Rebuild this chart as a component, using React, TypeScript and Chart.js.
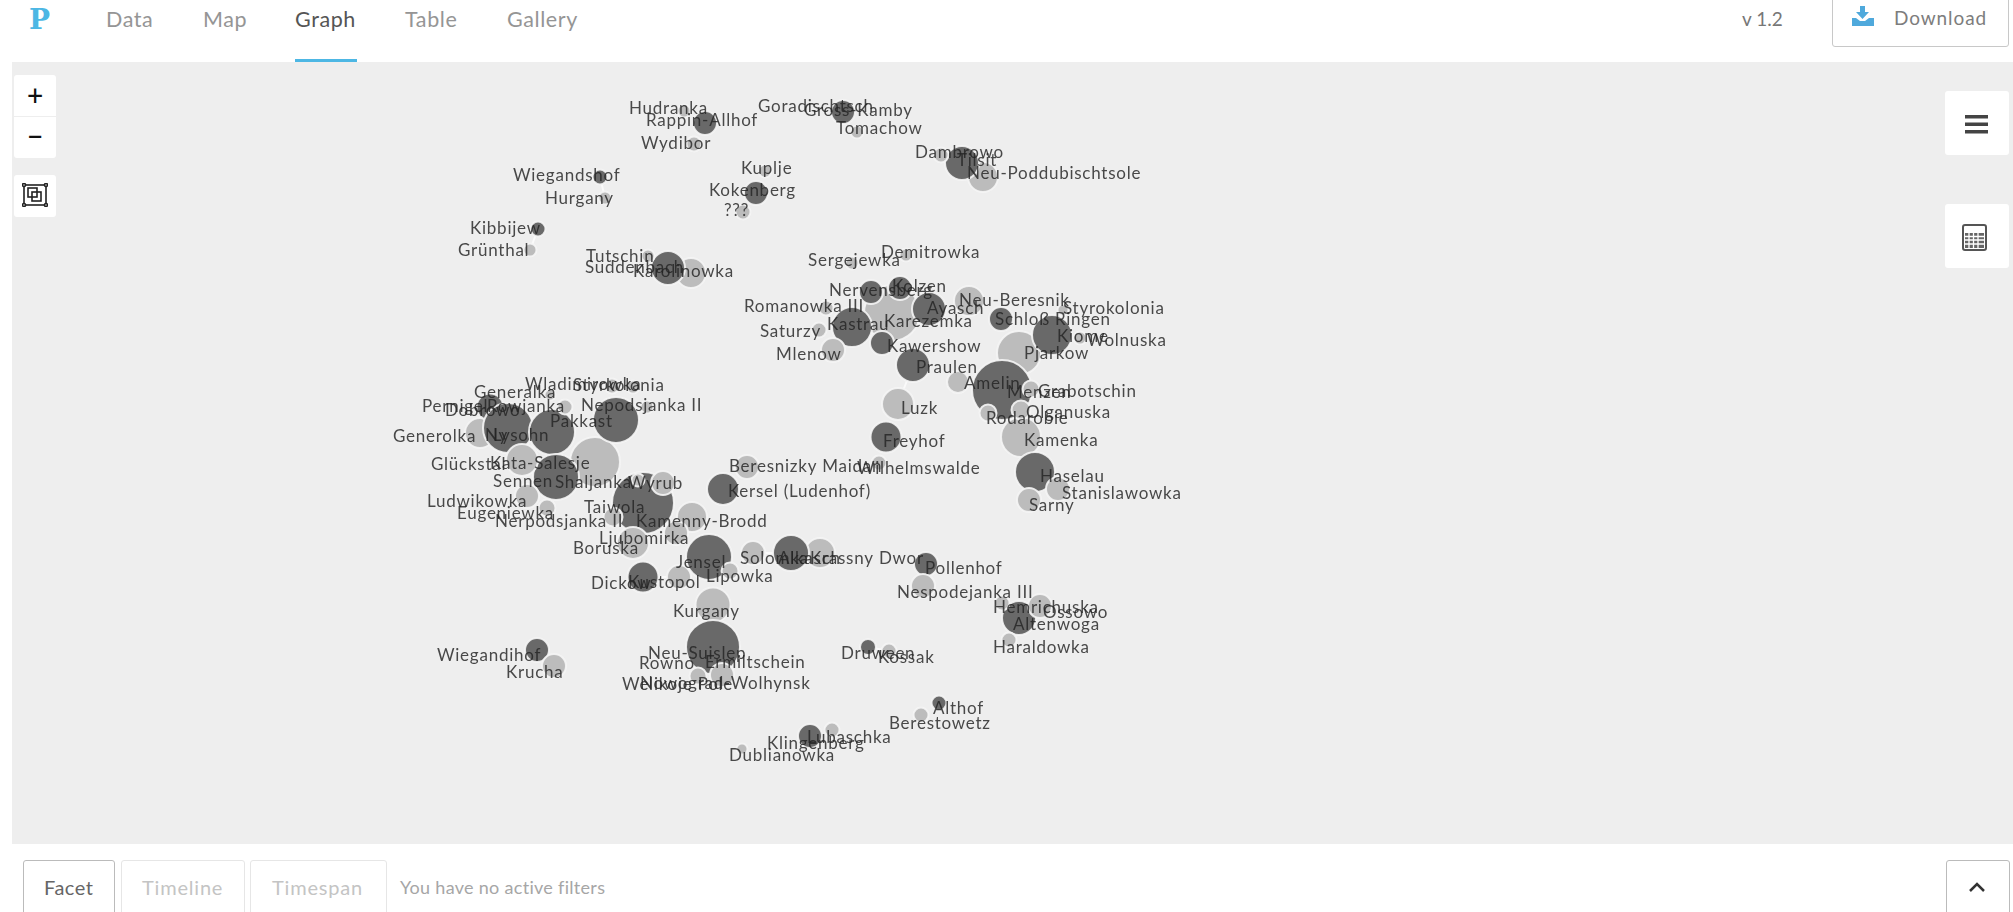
import React, { useEffect, useRef } from "react";
import { Chart, registerables } from "chart.js";

Chart.register(...registerables);

const darkX = [705, 843, 962, 600, 756, 538, 668, 871, 900, 929, 852, 882, 913, 1001, 1052, 1002, 886, 1035, 490, 508, 552, 616, 556, 643, 723, 709, 791, 643, 713, 537, 868, 810, 926, 1019, 939];
const darkY = [123, 112, 163, 177, 193, 229, 268, 292, 288, 309, 327, 343, 365, 319, 335, 390, 437, 472, 407, 428, 432, 420, 477, 503, 489, 557, 553, 577, 647, 650, 647, 736, 564, 618, 703];
const darkR = [12, 12, 17, 7.5, 12, 7.5, 17, 12, 12, 17, 20, 12, 17, 12, 20, 30, 15.5, 20, 13.5, 25, 23, 23, 23, 31, 16, 23, 18, 15.5, 27, 12, 8, 12, 12, 17, 7.5];

const backLightX = [892, 595, 1019, 1021, 480, 983, 691, 820, 969, 713];
const backLightY = [313, 462, 353, 437, 433, 177, 273, 553, 301, 605];
const backLightR = [28, 25, 22, 20, 15, 15, 15, 15, 15, 17.5];

const frontLightX = [684, 694, 857, 941, 605, 765, 743, 530, 648, 852, 906, 826, 819, 833, 1080, 1063, 958, 898, 1031, 1021, 988, 1058, 1029, 879, 522, 612, 633, 565, 647, 550, 527, 547, 638, 663, 747, 692, 676, 633, 613, 753, 730, 679, 698, 722, 554, 889, 832, 742, 923, 1040, 1002, 1009, 921];
const frontLightY = [111, 144, 132, 155, 198, 171, 212, 250, 256, 263, 255, 308, 330, 350, 338, 310, 382, 404, 389, 410, 413, 489, 500, 463, 460, 386, 387, 407, 407, 395, 496, 508, 480, 483, 467, 517, 533, 543, 517, 553, 571, 577, 676, 675, 666, 651, 730, 749, 586, 606, 603, 640, 715];
const frontLightR = [6.5, 7.5, 6.5, 7.5, 6.5, 6.5, 7.5, 6.5, 6.5, 6.5, 6.5, 7.5, 7.5, 12, 6.5, 5.5, 11, 16, 8.5, 9.5, 8.5, 12, 12, 7.5, 16, 7.5, 6.5, 7.5, 6.5, 5.5, 12, 8.5, 6.5, 12, 12, 15, 12, 16, 9.5, 12, 8.5, 12, 8.5, 12, 12, 7.5, 7.5, 5.5, 12, 12, 7.5, 7.5, 7.5];

const linkX = [852, 871, null, 906, 900, null, 913, 958, null, 723, 692, null, 969, 1001, null, 939, 921, null, 753, 791, null, 679, 643, null, 868, 889, null, 600, 605, null, 538, 530, null, 898, 913];
const linkY = [263, 292, null, 255, 288, null, 365, 382, null, 489, 517, null, 301, 319, null, 703, 715, null, 553, 553, null, 577, 577, null, 647, 651, null, 177, 198, null, 229, 250, null, 404, 365];

const labelNames = ["Hudranka", "Rappin-Allhof", "Goradischtsch", "Gross-Kamby", "Tomachow", "Wydibor", "Dambrowo", "Tilsit", "Neu-Poddubischtsole", "Wiegandshof", "Hurgany", "Kuplje", "Kokenberg", "???", "Kibbijew", "Grünthal", "Tutschin", "Suddenbach", "Karolinowka", "Demitrowka", "Sergejewka", "Nervensberg", "Kolzen", "Romanowka III", "Neu-Beresnik", "Ayasch", "Styrokolonia", "Schloß Ringen", "Kastrau", "Karezemka", "Saturzy", "Kiome", "Wolnuska", "Kawershow", "Mlenow", "Pjarkow", "Praulen", "Amelin", "Menzen", "Grabotschin", "Luzk", "Olganuska", "Rodarobie", "Kamenka", "Freyhof", "Wilhelmswalde", "Haselau", "Stanislawowka", "Sarny", "Wladimirowka", "Styrkolonia", "Generalka", "Pernigel", "Dobrowo", "Rowjanka", "Nepodsjanka II", "Pakkast", "Generolka", "Ny", "Lysohn", "Glückstal", "Kata-Salesje", "Sennen", "Shaljanka", "Wyrub", "Beresnizky Maidan", "Kersel (Ludenhof)", "Ludwikowka", "Eugeniewka", "Taiwola", "Nerpodsjanka II", "Kamenny-Brodd", "Ljubomirka", "Boruska", "Jensel", "Solomka", "Alkasch", "Krassny Dwor", "Lipowka", "Dickow", "Kustopol", "Kurgany", "Neu-Suislep", "Rowno", "Ermiltschein", "Wiegandihof", "Krucha", "Nowograd-Wolhynsk", "Welikoje Pole", "Druween", "Kossak", "Lubaschka", "Klingenberg", "Dublianowka", "Nespodejanka III", "Pollenhof", "Hemrichuska", "Ossowo", "Altenwoga", "Haraldowka", "Althof", "Berestowetz"];
const labelX = [629, 646, 758, 804, 836, 641, 915, 957, 967, 513, 545, 741, 709, 724, 470, 458, 586, 585, 633, 881, 808, 829, 892, 744, 959, 927, 1063, 995, 827, 884, 760, 1057, 1087, 887, 776, 1024, 916, 964, 1007, 1038, 901, 1026, 986, 1024, 883, 857, 1040, 1062, 1029, 525, 573, 474, 422, 445, 487, 581, 550, 393, 485, 493, 431, 490, 493, 555, 628, 729, 728, 427, 457, 584, 495, 636, 599, 573, 676, 740, 778, 810, 706, 591, 628, 673, 648, 639, 705, 437, 506, 640, 622, 841, 878, 807, 767, 729, 897, 925, 993, 1043, 1013, 993, 933, 889];
const labelY = [109, 121, 107, 111, 129, 144, 153, 161, 174, 176, 199, 169, 191, 211, 229, 251, 257, 268, 272, 253, 261, 291, 287, 307, 301, 309, 309, 320, 325, 322, 332, 337, 341, 347, 355, 354, 368, 384, 393, 392, 409, 413, 419, 441, 442, 469, 477, 494, 506, 385, 386, 393, 407, 411, 407, 406, 422, 437, 436, 436, 465, 464, 482, 483, 484, 467, 492, 502, 514, 508, 522, 522, 539, 549, 563, 559, 559, 559, 577, 584, 583, 612, 654, 664, 663, 656, 673, 684, 685, 654, 658, 738, 744, 756, 593, 569, 608, 613, 625, 648, 709, 724];

const navItems = ["Data", "Map", "Graph", "Table", "Gallery"];
const navLeft = [106, 203, 295, 405, 507];

const labelFont = "400 17px Lato, 'Open Sans', sans-serif";

const pointsOf = (xs: number[], ys: number[], rs: number[]) => xs.map((x, i) => ({ x, y: ys[i], r: rs[i] }));

const labelPlugin = {
  id: "nodeLabels",
  afterDatasetsDraw(chart: any) {
    const { ctx, scales } = chart;
    ctx.save();
    ctx.font = labelFont;
    ctx.textAlign = "left";
    ctx.textBaseline = "middle";
    ctx.fillStyle = "rgba(35,35,35,0.82)";
    (ctx as any).letterSpacing = "0.75px";
    labelNames.forEach((name, i) => {
      ctx.fillText(name, scales.x.getPixelForValue(labelX[i]), scales.y.getPixelForValue(labelY[i]));
    });
    ctx.restore();
  },
};

const box = (left: number, top: number, width: number, height: number, extra: React.CSSProperties = {}): React.CSSProperties => ({
  position: "absolute", left, top, width, height, boxSizing: "border-box", ...extra,
});

const uiFont = "Lato, 'Open Sans', sans-serif";

export default function App() {
  const ref = useRef<HTMLCanvasElement>(null);
  useEffect(() => {
    document.body.style.margin = "0";
    document.body.style.overflow = "hidden";
    const bubble = (data: any[], color: string, order: number) => ({
      type: "bubble" as const, data, order, backgroundColor: color, borderColor: "rgba(245,245,245,0.9)", borderWidth: 2, hoverBorderWidth: 2,
    });
    const chart = new Chart(ref.current as HTMLCanvasElement, {
      type: "bubble",
      data: {
        datasets: [
          {
            type: "line", order: 4, data: linkX.map((x, i) => ({ x, y: linkY[i] })) as any,
            borderColor: "rgba(255,255,255,0.7)", borderWidth: 2, pointRadius: 0, spanGaps: false, parsing: false,
          } as any,
          bubble(pointsOf(backLightX, backLightY, backLightR), "#bcbcbc", 3),
          bubble(pointsOf(darkX, darkY, darkR), "#696969", 2),
          bubble(pointsOf(frontLightX, frontLightY, frontLightR), "#bcbcbc", 1),
        ],
      },
      options: {
        animation: false,
        responsive: false,
        maintainAspectRatio: false,
        layout: { padding: 0, autoPadding: false },
        scales: {
          x: { type: "linear", min: 12, max: 2013, display: false },
          y: { type: "linear", min: 62, max: 844, reverse: true, display: false },
        },
        plugins: { legend: { display: false }, tooltip: { enabled: false } },
      },
      plugins: [labelPlugin],
    });
    return () => chart.destroy();
  }, []);

  return (
    <div style={{ position: "relative", width: 2013, height: 912, overflow: "hidden", background: "#fff", fontFamily: uiFont, filter: "blur(0.45px)" }}>
      <div style={{ position: "absolute", left: 29, top: 3, font: "700 28px 'DejaVu Serif', serif", color: "#4db7e4" }}>P</div>
      {navItems.map((t, i) => (
        <div key={t} style={{ position: "absolute", left: navLeft[i], top: 5, fontSize: 21.5, lineHeight: "28px", letterSpacing: 0.6, color: t === "Graph" ? "#555" : "#959595" }}>{t}</div>
      ))}
      <div style={box(295, 59, 62, 3, { background: "#4db7e4" })} />
      <div style={{ position: "absolute", left: 1742, top: 6, fontSize: 19, lineHeight: "26px", color: "#777" }}>v 1.2</div>
      <div style={box(1832, -6, 177, 53, { border: "1px solid #c8c8c8", borderRadius: 3, background: "#fff" })} />
      <svg style={{ position: "absolute", left: 1852, top: 6 }} width="22" height="20" viewBox="0 0 22 20">
        <path d="M8 0h5v6h4l-6.500 7L4 6h4z M0 12h4l4 3h5l4-3h5v8H0z" fill="#4fa9dc" />
      </svg>
      <div style={{ position: "absolute", left: 1894, top: 5, fontSize: 19, lineHeight: "26px", letterSpacing: 0.9, color: "#7d7d7d" }}>Download</div>

      <div style={box(12, 62, 2001, 782, { background: "#eeeeee" })} />
      <canvas ref={ref} width={2001} height={782} style={{ position: "absolute", left: 12, top: 62, width: 2001, height: 782 }} />

      <div style={box(14, 75, 42, 41, { background: "#fff", borderRadius: "3px 3px 0 0", textAlign: "center", font: "500 28px/40px Lato, sans-serif", color: "#111" })}>+</div>
      <div style={box(14, 117, 42, 41, { background: "#fff", borderRadius: "0 0 3px 3px", textAlign: "center", font: "500 28px/38px Lato, sans-serif", color: "#111" })}>−</div>
      <div style={box(14, 175, 42, 42, { background: "#fff", borderRadius: 3 })} />
      <svg style={{ position: "absolute", left: 22, top: 183 }} width="26" height="24" viewBox="0 0 26 24" fill="none" stroke="#222" strokeWidth="1.600">
        <rect x="2" y="2" width="22" height="20" />
        <rect x="6" y="5" width="9" height="9" />
        <rect x="10" y="9" width="9" height="9" />
        <circle cx="2" cy="2" r="1.500" fill="#fff" /><circle cx="24" cy="2" r="1.500" fill="#fff" />
        <circle cx="2" cy="22" r="1.500" fill="#fff" /><circle cx="24" cy="22" r="1.500" fill="#fff" />
      </svg>

      <div style={box(1945, 91, 64, 64, { background: "#fff", borderRadius: 3 })} />
      <svg style={{ position: "absolute", left: 1965, top: 115 }} width="23" height="20" viewBox="0 0 23 20" fill="#444">
        <rect y="0" width="23" height="3.500" /><rect y="7.500" width="23" height="3.500" /><rect y="15" width="23" height="3.500" />
      </svg>
      <div style={box(1945, 204, 64, 64, { background: "#fff", borderRadius: 3 })} />
      <svg style={{ position: "absolute", left: 1962, top: 224 }} width="25" height="27" viewBox="0 0 25 27">
        <rect x="1" y="1" width="23" height="25" rx="2" fill="none" stroke="#555" strokeWidth="2" />
        <rect x="3" y="9" width="19" height="15" fill="#666" />
        <path d="M3 12.500h19M3 16h19M3 20h19M7 9v15M11.500 9v15M16 9v15" stroke="#fff" strokeWidth="1.300" />
      </svg>

      <div style={box(23, 860, 92, 60, { border: "1px solid #bbb", borderRadius: 3 })} />
      <div style={box(121, 860, 124, 60, { border: "1px solid #e6e6e6", borderRadius: 3 })} />
      <div style={box(250, 860, 137, 60, { border: "1px solid #e6e6e6", borderRadius: 3 })} />
      <div style={{ position: "absolute", left: 44, top: 874, fontSize: 20, lineHeight: "26px", letterSpacing: 0.5, color: "#666" }}>Facet</div>
      <div style={{ position: "absolute", left: 142, top: 874, fontSize: 20, lineHeight: "26px", letterSpacing: 0.8, color: "#c4c4c4" }}>Timeline</div>
      <div style={{ position: "absolute", left: 272, top: 874, fontSize: 20, lineHeight: "26px", letterSpacing: 0.8, color: "#c4c4c4" }}>Timespan</div>
      <div style={{ position: "absolute", left: 400, top: 874, fontSize: 18, lineHeight: "26px", letterSpacing: 0.3, color: "#a6a6a6" }}>You have no active filters</div>
      <div style={box(1946, 860, 64, 60, { border: "1px solid #bbb", borderRadius: 3 })} />
      <svg style={{ position: "absolute", left: 1968, top: 881 }} width="18" height="12" viewBox="0 0 18 12" fill="none" stroke="#333" strokeWidth="2.500">
        <path d="M2 10 L9 3 L16 10" />
      </svg>
    </div>
  );
}
